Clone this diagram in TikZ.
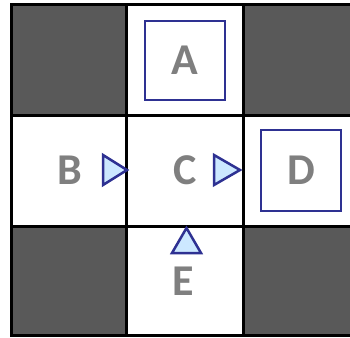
\documentclass[tikz,border=0pt]{standalone}
\usepackage{fontspec}
\setmainfont{Carlito}
\definecolor{darkcell}{HTML}{595959}
\definecolor{lettergray}{HTML}{7F7F7F}
\definecolor{boxblue}{HTML}{2E3192}
\definecolor{trifill}{HTML}{CCE8FF}
\begin{document}
\begin{tikzpicture}[x=1pt,y=-1pt,
  cellline/.style={draw=black,line width=3pt},
  letter/.style={text=lettergray,font=\fontsize{44}{44}\selectfont\bfseries,inner sep=0pt},
  bluebox/.style={draw=boxblue,line width=2.5pt},
  tri/.style={draw=boxblue,fill=trifill,line width=2.5pt,line join=miter}]
\useasboundingbox (0,0) rectangle (350,337);
\clip (0,0) rectangle (350,337);
\fill[white] (0,0) rectangle (350,337);
% dark cells
\fill[darkcell] (11,5) rectangle (126,115);
\fill[darkcell] (243,5) rectangle (359,115);
\fill[darkcell] (11,226) rectangle (126,335);
\fill[darkcell] (243,226) rectangle (359,335);
% grid
\draw[cellline] (11,5) rectangle (359,335);
\draw[cellline] (126,5) -- (126,335);
\draw[cellline] (243,5) -- (243,335);
\draw[cellline] (11,115) -- (359,115);
\draw[cellline] (11,226) -- (359,226);
% boxes
\draw[bluebox] (145,21) rectangle (225,100);
\draw[bluebox] (261,130) rectangle (341,211);
% triangles
\draw[tri] (103,155) -- (127,170) -- (103,185) -- cycle;
\draw[tri] (214,155) -- (240,170) -- (214,185) -- cycle;
\draw[tri] (172,253) -- (186.5,228) -- (201,253) -- cycle;
% letters
\node[letter] (A) at (185,60) {A};
\node[letter] (B) at (69.5,170) {B};
\node[letter] (C) at (185,170) {C};
\node[letter] (D) at (301,170) {D};
\node[letter] (E) at (183,281) {E};
\end{tikzpicture}
\end{document}
